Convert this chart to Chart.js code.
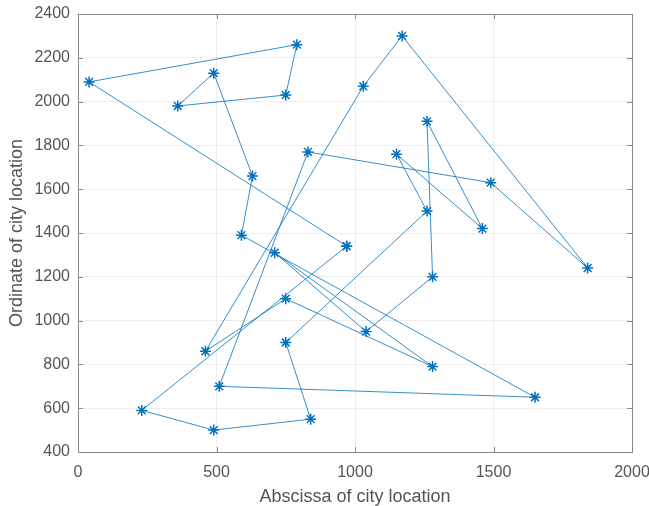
<!DOCTYPE html>
<html>
<head>
<meta charset="utf-8">
<script src="https://cdn.jsdelivr.net/npm/chart.js@4"></script>
<style>
  html, body { margin: 0; padding: 0; background: #fff; }
  canvas { display: block; }
</style>
</head>
<body>
<canvas id="tour" width="649" height="506"></canvas>
<script>
// tour through the cities, in visiting order (closed: ends where it starts)
const routeX = [970, 40, 790, 750, 360, 490, 630, 590, 1650, 510, 830, 1490, 1840, 1170, 1030,
  460, 750, 1280, 710, 1040, 1280, 1260, 1460, 1150, 1260, 750, 840, 490, 230, 970];
const routeY = [1340, 2090, 2260, 2030, 1980, 2130, 1660, 1390, 650, 700, 1770, 1630, 1240, 2300, 2070,
  860, 1100, 790, 1310, 950, 1200, 1910, 1420, 1760, 1500, 900, 550, 500, 590, 1340];

const xTicks = [0, 500, 1000, 1500, 2000];
const yTicks = [400, 600, 800, 1000, 1200, 1400, 1600, 1800, 2000, 2200, 2400];

const xLabel = "Abscissa of city location";
const yLabel = "Ordinate of city location";

const blue = "#0072BD";
const axisGray = "#8a8a8a";
const textGray = "#555555";
const fontFamily = "'Liberation Sans', Arial, sans-serif";

// box round the plot with inward ticks, like the matlab axes
const boxTicks = {
  id: "boxTicks",
  afterDraw(chart) {
    const {ctx, chartArea: a, scales} = chart;
    const len = 5;
    ctx.save();
    ctx.strokeStyle = axisGray;
    ctx.lineWidth = 1;
    ctx.strokeRect(a.left + 0.5, a.top + 0.5, a.right - a.left, a.bottom - a.top);
    ctx.beginPath();
    xTicks.forEach(v => {
      const x = Math.round(scales.x.getPixelForValue(v)) + 0.5;
      ctx.moveTo(x, a.bottom); ctx.lineTo(x, a.bottom - len);
      ctx.moveTo(x, a.top); ctx.lineTo(x, a.top + len);
    });
    yTicks.forEach(v => {
      const y = Math.round(scales.y.getPixelForValue(v)) + 0.5;
      ctx.moveTo(a.left, y); ctx.lineTo(a.left + len, y);
      ctx.moveTo(a.right, y); ctx.lineTo(a.right - len, y);
    });
    ctx.stroke();
    ctx.restore();
  }
};

const noPad = s => {
  s.paddingLeft = 0; s.paddingRight = 0; s.paddingTop = 0; s.paddingBottom = 0;
};

const points = routeX.map((x, i) => ({x, y: routeY[i]}));

new Chart(document.getElementById("tour"), {
  type: "scatter",
  data: {
    datasets: [{
      data: points,
      showLine: true,
      borderColor: blue,
      borderWidth: 0.8,
      pointStyle: "star",
      pointRadius: 5.5,
      pointBorderWidth: 1.5,
      pointBorderColor: blue,
      pointBackgroundColor: blue,
      tension: 0
    }]
  },
  options: {
    responsive: false,
    animation: false,
    devicePixelRatio: 1,
    layout: {padding: {left: 0, right: 17, top: 14, bottom: 0}},
    plugins: {legend: {display: false}, tooltip: {enabled: false}},
    scales: {
      x: {
        type: "linear",
        min: 0,
        max: 2000,
        afterFit: s => { s.height = 54; noPad(s); },
        afterBuildTicks: s => { s.ticks = xTicks.map(v => ({value: v})); },
        ticks: {color: textGray, font: {family: fontFamily, size: 16}, padding: 11, maxRotation: 0,
          callback: v => String(v)},
        grid: {color: "rgba(38,38,38,0.08)", drawTicks: false},
        border: {display: false},
        title: {display: true, text: xLabel, color: textGray,
          font: {family: fontFamily, size: 18}, padding: {top: 0, bottom: -2}}
      },
      y: {
        type: "linear",
        min: 400,
        max: 2400,
        afterFit: s => { s.width = 78; noPad(s); },
        afterBuildTicks: s => { s.ticks = yTicks.map(v => ({value: v})); },
        ticks: {color: textGray, font: {family: fontFamily, size: 16}, padding: 8,
          callback: v => String(v)},
        grid: {color: "rgba(38,38,38,0.08)", drawTicks: false},
        border: {display: false},
        title: {display: true, text: yLabel, color: textGray,
          font: {family: fontFamily, size: 18}, padding: {top: 6, bottom: 0}}
      }
    }
  },
  plugins: [boxTicks]
});
</script>
</body>
</html>
